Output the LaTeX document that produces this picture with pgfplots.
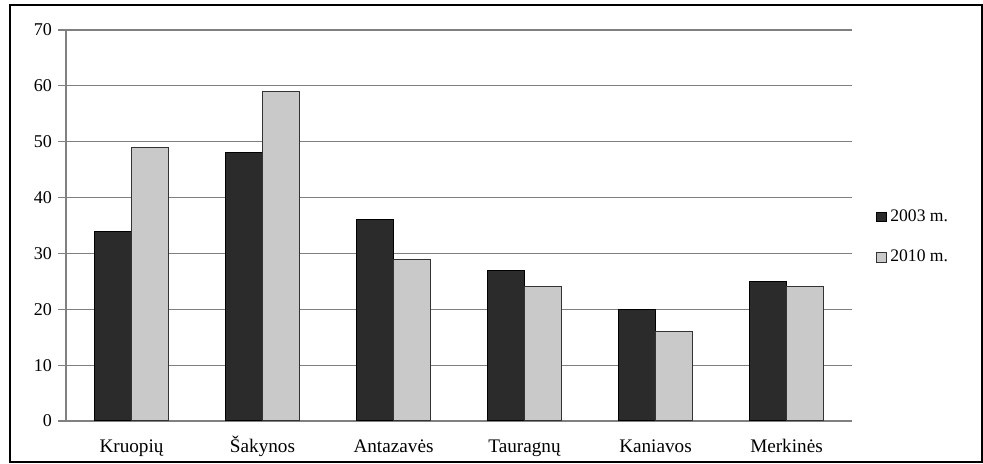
\documentclass[border=0pt]{standalone}
\usepackage{fontspec}
\setmainfont{Liberation Serif}
\usepackage{pgfplots}
\pgfplotsset{compat=1.18}
\definecolor{darkbar}{HTML}{2B2B2B}
\definecolor{lightbar}{HTML}{C9C9C9}
\definecolor{gridc}{HTML}{808080}
\begin{document}
\begin{tikzpicture}
\useasboundingbox (-33pt,-21.5pt) rectangle (458.5pt,210.5pt);
\draw[black, line width=0.8pt] (-28pt,-20.5pt) rectangle (458pt,208pt);
\begin{axis}[
  at={(0pt,0pt)}, anchor=south west,
  scale only axis,
  width=393pt, height=195.5pt,
  xmin=-0.5, xmax=5.5, ymin=0, ymax=70,
  ytick={0,10,...,70},
  xtick={0,...,5},
  xticklabels={Kruopių,Šakynos,Antazavės,Tauragnų,Kaniavos,Merkinės},
  x tick style={draw=none},
  extra x ticks={-0.5,0.5,1.5,2.5,3.5,4.5,5.5},
  extra x tick labels={},
  extra x tick style={grid=none, major tick length=3pt, tick style={draw=gridc, line width=0.6pt}},
  y tick style={draw=gridc, line width=0.6pt},
  major tick length=4pt,
  tick align=outside,
  ymajorgrids,
  grid style={gridc, line width=0.6pt},
  axis x line*=bottom, axis y line*=left,
  axis line style={gridc, line width=0.6pt, -},
  ybar=0pt, bar width=18.5pt,
  yticklabel style={font=\fontsize{9pt}{10pt}\selectfont, /pgf/number format/assume math mode=true, xshift=0.5pt},
  xticklabel style={font=\fontsize{9.6pt}{11pt}\selectfont, yshift=-1.5pt, text height=6.6pt},
  legend style={at={(1.03,0.47)}, anchor=west, draw=none, fill=none,
    font=\fontsize{8.8pt}{10pt}\selectfont, row sep=9pt, inner sep=0pt},
  legend cell align=left,
  legend image code/.code={\draw[#1, line width=0.4pt] (0pt,-2.4pt) rectangle (4.8pt,2.4pt);},
]
\addplot[fill=darkbar, draw=black, line width=0.5pt] coordinates {(0,34) (1,48) (2,36) (3,27) (4,20) (5,25)};
\addplot[fill=lightbar, draw=black!80, line width=0.5pt] coordinates {(0,49) (1,59) (2,29) (3,24) (4,16) (5,24)};
\legend{2003 m.,2010 m.}
\end{axis}
\end{tikzpicture}
\end{document}
